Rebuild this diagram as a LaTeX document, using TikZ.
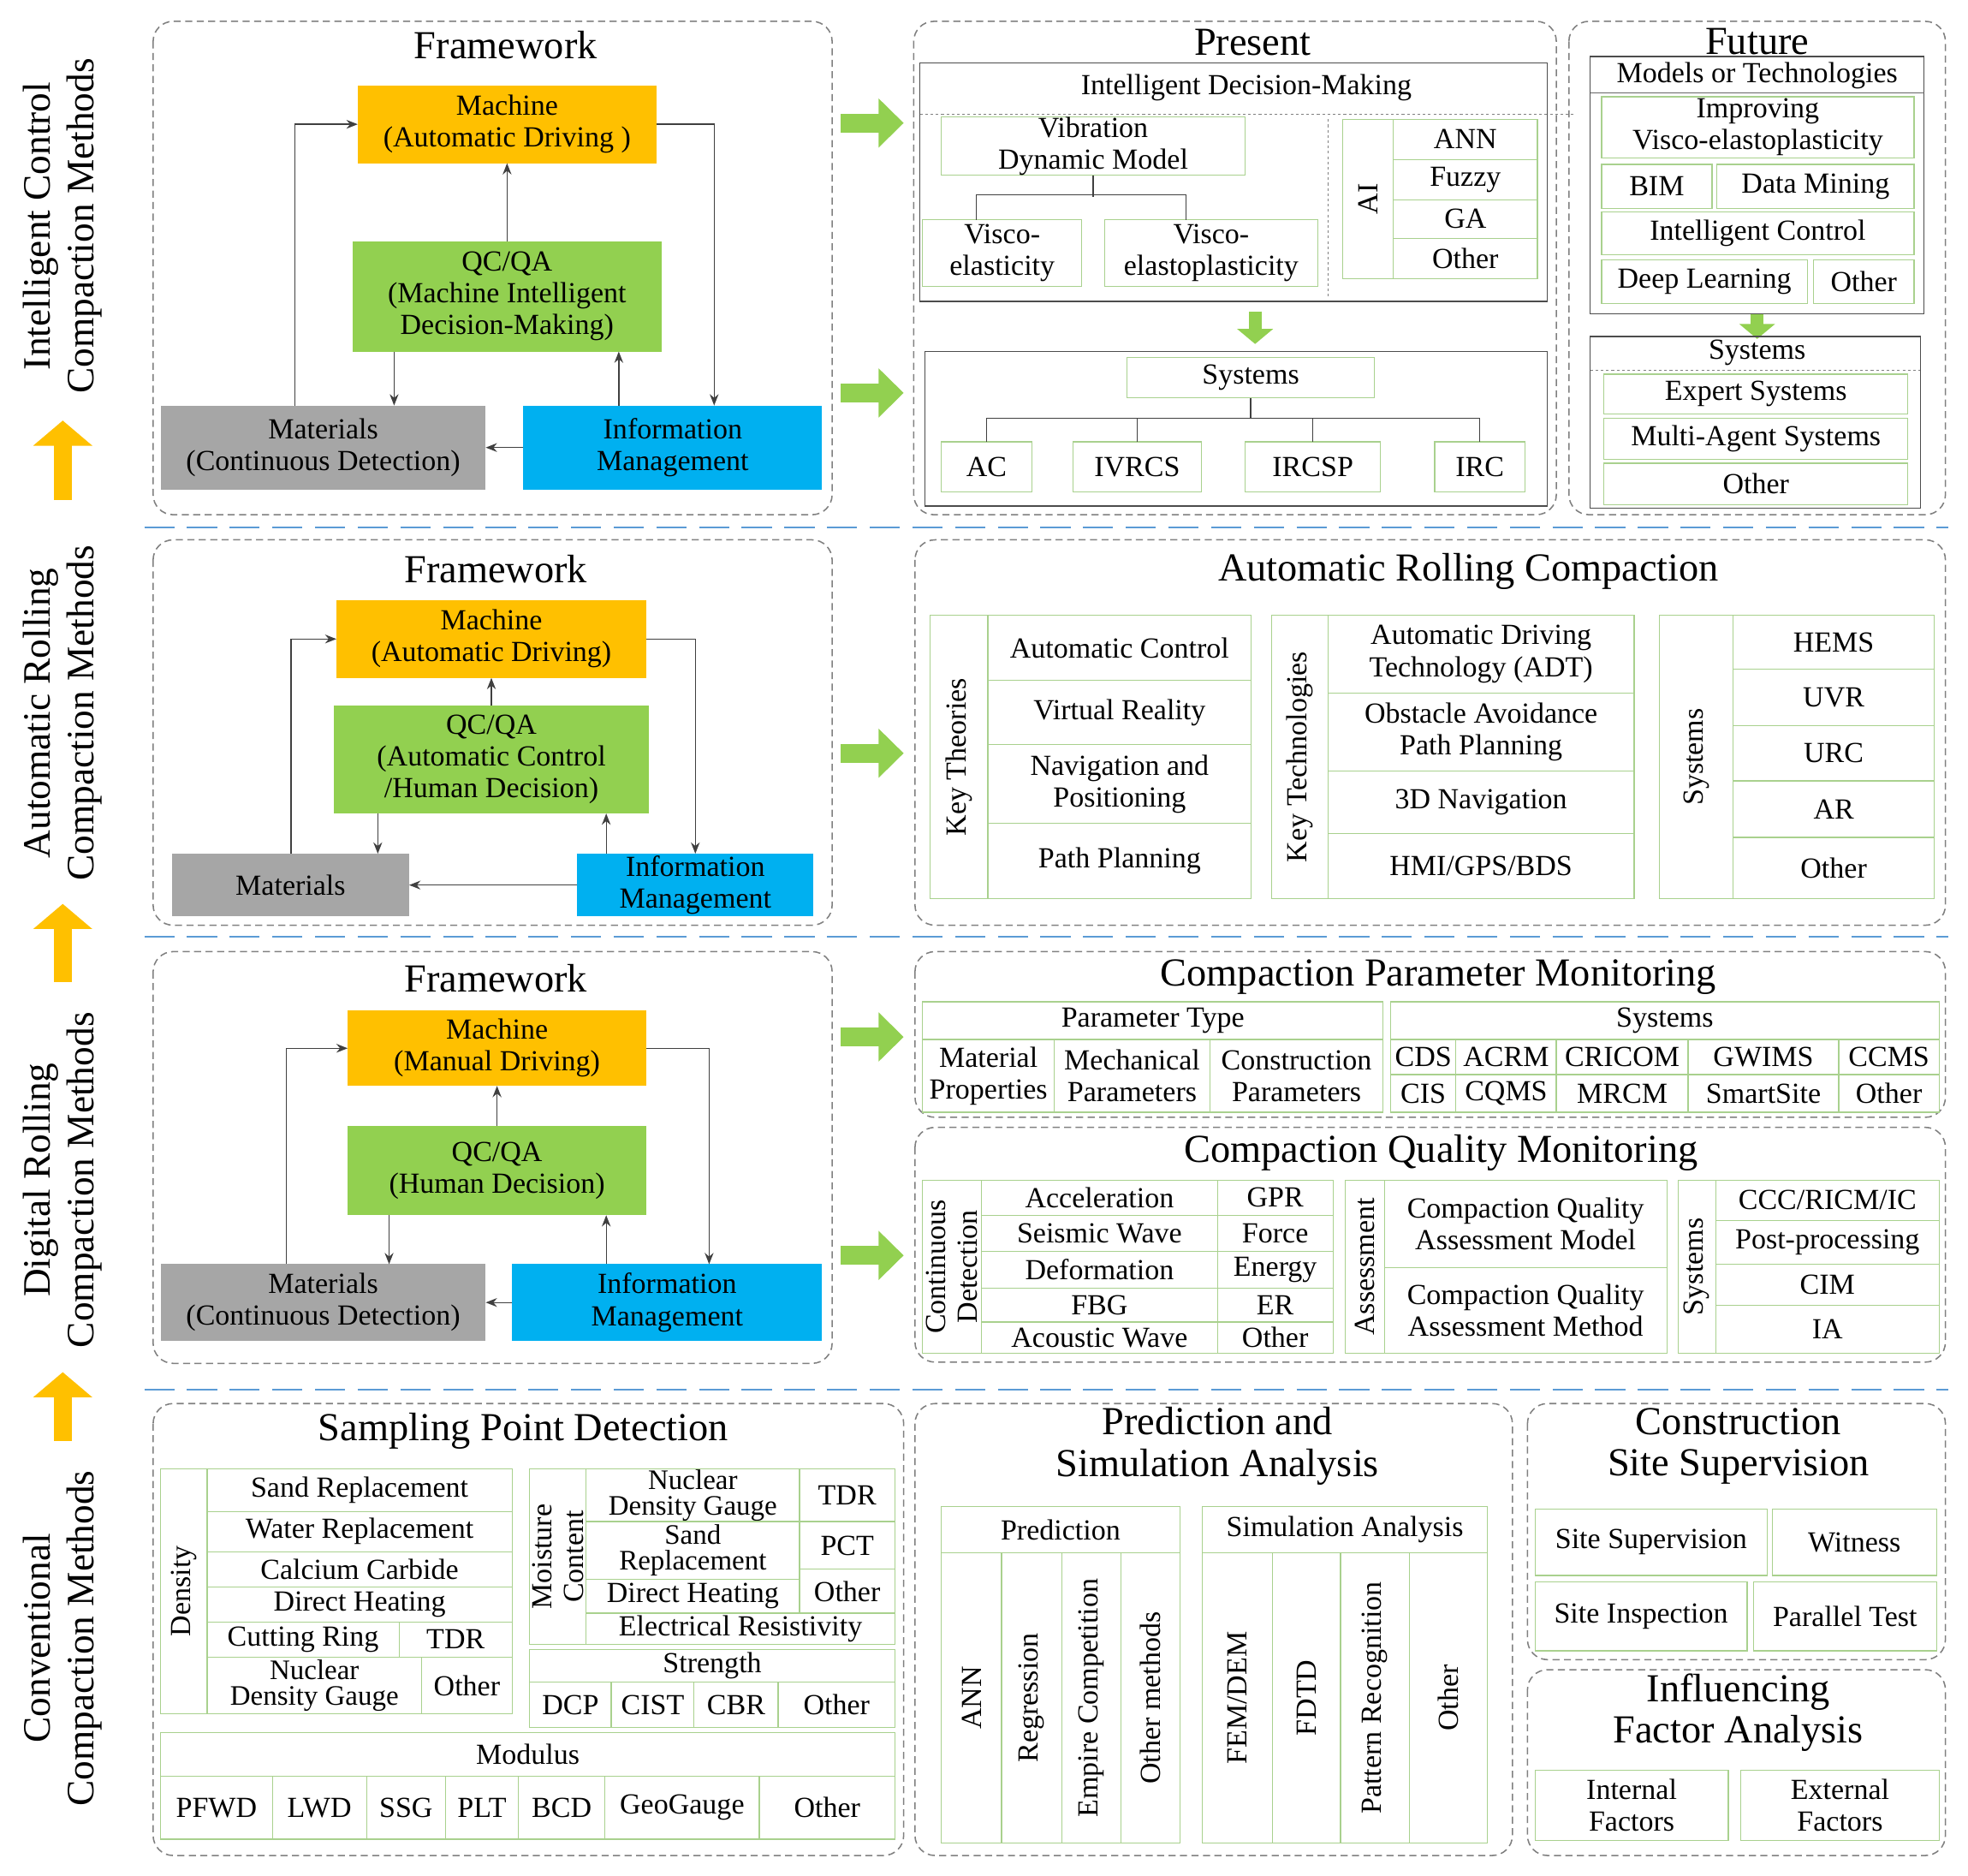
\documentclass[tikz,border=0pt]{standalone}
\usepackage{fontspec}
\setmainfont{Liberation Serif}
\usetikzlibrary{arrows.meta,calc}
\definecolor{gline}{HTML}{A9D18E}
\definecolor{garr}{HTML}{92D050}
\definecolor{orng}{HTML}{FFC000}
\definecolor{blu}{HTML}{00B0F0}
\definecolor{gry}{HTML}{A6A6A6}
\definecolor{sep}{HTML}{5B9BD5}
\definecolor{pan}{HTML}{808080}
\newcommand\fs{\fontsize{33}{36}\selectfont}
\newcommand\fss{\fontsize{32}{29}\selectfont}
\newcommand\ft{\fontsize{45}{47}\selectfont}
\newcommand\fl{\fontsize{44}{50}\selectfont}
\newcounter{bx}
\newcommand\B[6][]{\stepcounter{bx}\node[gbox,minimum width={(#4-#2)*0.05cm},minimum height={(#5-#3)*0.05cm},#1] (b\thebx) at ({(#2+#4)/2},{(#3+#5)/2}) {#6};}
\newcommand\Rb[5]{\B{#1}{#2}{#3}{#4}{}\node[rotate=90,font=\fs,align=center] (r\thebx) at (b\thebx) {#5};}
\newcommand\Pn[4]{\draw[panel] (#1,#2) rectangle (#3,#4);}
\newcommand\Tt[3]{\stepcounter{bx}\node[font=\ft,align=center] (t\thebx) at (#1,#2) {#3};}
\tikzset{
 x=0.05cm,y=-0.05cm,
 gbox/.style={draw=gline,line width=1.2pt,inner sep=0pt,outer sep=0pt,font=\fs,align=center},
 dbox/.style={draw=black!70,line width=1.2pt},
 panel/.style={draw=pan,dashed,line width=1.5pt,dash pattern=on 8pt off 5pt,rounded corners=0.8cm},
 fbox/.style={inner sep=0pt,outer sep=0pt,font=\fs,align=center,draw=none},
 fw/.style={draw=black!75,line width=1.3pt,-{Stealth[length=0.45cm,width=0.35cm]}},
 bigg/.style={draw=garr,line width=0.75cm,-{Triangle[length=1cm,width=1.9cm]}},
 smallg/.style={draw=garr,line width=0.5cm,-{Triangle[length=0.6cm,width=1.4cm]}},
 bigo/.style={draw=orng,line width=0.7cm,-{Triangle[length=1cm,width=2.3cm]}},
 sepl/.style={draw=sep,line width=2.5pt,dash pattern=on 1.2cm off 0.5cm},
 tree/.style={draw=black!75,line width=1.2pt},
}
\begin{document}
\begin{tikzpicture}
\useasboundingbox[fill=white] (0,0) rectangle (1568,1494);
% left labels
\node[rotate=90,font=\fl,align=center] (L1) at (50,180) {Intelligent Control\\Compaction Methods};
\node[rotate=90,font=\fl,align=center] (L2) at (50,568) {Automatic Rolling\\Compaction Methods};
\node[rotate=90,font=\fl,align=center] (L3) at (50,940) {Digital Rolling\\Compaction Methods};
\node[rotate=90,font=\fl,align=center] (L4) at (50,1305) {Conventional\\Compaction Methods};
\coordinate (o1a) at (50,398); \coordinate (o1b) at (50,335);
\coordinate (o2a) at (50,782); \coordinate (o2b) at (50,720);
\coordinate (o3a) at (50,1148); \coordinate (o3b) at (50,1093);
\draw[bigo] (o1a) -- (o1b); \draw[bigo] (o2a) -- (o2b); \draw[bigo] (o3a) -- (o3b);
% separators
\coordinate (s1a) at (115,420); \coordinate (s1b) at (1552,420);
\coordinate (s2a) at (115,746); \coordinate (s2b) at (1552,746);
\coordinate (s3a) at (115,1107); \coordinate (s3b) at (1552,1107);
\draw[sepl] (s1a)--(s1b); \draw[sepl] (s2a)--(s2b); \draw[sepl] (s3a)--(s3b);

% ===== Row 1 framework
\Pn{122}{17}{663}{410}
\Tt{403}{36}{Framework}
\node[fbox,fill=orng,minimum width=11.9cm,minimum height=3.1cm] (mach1) at (404,99) {Machine\\(Automatic Driving )};
\node[fbox,fill=garr,minimum width=12.3cm,minimum height=4.4cm] (qc1) at (404,236) {QC/QA\\(Machine Intelligent\\Decision-Making)};
\node[fbox,fill=gry,minimum width=12.95cm,minimum height=3.35cm] (mat1) at (257.5,356.5) {Materials\\(Continuous Detection)};
\node[fbox,fill=blu,minimum width=11.9cm,minimum height=3.35cm] (info1) at (536,356.5) {Information\\Management};
\draw[fw] ([xshift=5.35cm]mat1.north west) |- (mach1.west);
\draw[fw] (mach1.east) -| ([xshift=-4.3cm]info1.north east);
\draw[fw] (qc1.north) -- (mach1.south);
\draw[fw] ([xshift=1.65cm]qc1.south west) -- ([xshift=1.65cm]qc1.south west |- mat1.north);
\draw[fw] ([xshift=3.8cm]info1.north west) -- ([xshift=3.8cm]info1.north west |- qc1.south);
\draw[fw] (info1.west) -- (mat1.east);
\coordinate (ga1) at (670,98); \coordinate (gb1) at (720,98);
\coordinate (ga2) at (670,313); \coordinate (gb2) at (720,313);
\draw[bigg] (ga1)--(gb1); \draw[bigg] (ga2)--(gb2);
% Present
\Pn{728}{17}{1240}{410}
\Tt{998}{34}{Present}
\draw[dbox] (733,50) rectangle (1233,240);
\node[font=\fs] (idm) at (993,70) {Intelligent Decision-Making};
\draw[pan,dashed,line width=1pt] (733,91) -- (1255,91);
\draw[pan,dashed,line width=1pt] (1058,95) -- (1058,236);
\B{750}{95}{992}{138}{Vibration\\Dynamic Model}\edef\vdm{b\thebx}
\B{735}{175}{862}{228}{Visco-\\elasticity}\edef\ve{b\thebx}
\B{880}{175}{1050}{228}{Visco-\\elastoplasticity}\edef\vep{b\thebx}
\draw[tree] (\vdm.south) -- ++(0,17);
\draw[tree] ([xshift=-1.025cm]\ve.north) -- ++(0,-20) -- ++(167,0) -- ++(0,20);
\Rb{1070}{95}{1110}{222}{AI}
\B{1110}{95}{1225}{127}{ANN}
\B{1110}{127}{1225}{159}{Fuzzy}
\B{1110}{159}{1225}{190}{GA}
\B{1110}{190}{1225}{222}{Other}
\coordinate (dg1) at (1000,248); \coordinate (dg2) at (1000,274);
\draw[smallg] (dg1)--(dg2);
\draw[dbox] (737,280) rectangle (1233,403);
\B{898}{285}{1095}{317}{Systems}\edef\sy{b\thebx}
\B{750}{352}{822}{392}{AC}\edef\sa{b\thebx}
\B{855}{352}{957}{392}{IVRCS}\edef\sb{b\thebx}
\B{992}{352}{1100}{392}{IRCSP}\edef\sc{b\thebx}
\B{1143}{352}{1215}{392}{IRC}\edef\sd{b\thebx}
\draw[tree] (\sy.south) -- ++(0,16) -| (\sa.north);
\draw[tree] (\sy.south) ++(0,16) -| (\sb.north);
\draw[tree] (\sy.south) ++(0,16) -| (\sc.north);
\draw[tree] (\sy.south) ++(0,16) -| (\sd.north);
% Future
\Pn{1250}{17}{1550}{410}
\Tt{1400}{33}{Future}
\draw[dbox] (1267,45) rectangle (1533,250);
\node[font=\fs] (mot) at (1400,60) {Models or Technologies};
\draw[black!60,line width=1pt] (1267,74) -- (1533,74);
\B{1276}{77}{1525}{126}{Improving\\Visco-elastoplasticity}
\B{1276}{131}{1364}{166}{BIM}
\B{1368}{131}{1525}{166}{Data Mining}
\B{1276}{169}{1525}{203}{Intelligent Control}
\B{1276}{207}{1440}{242}{Deep Learning}
\B{1445}{207}{1525}{242}{Other}
\coordinate (dg3) at (1400,250); \coordinate (dg4) at (1400,270);
\draw[smallg] (dg3)--(dg4);
\draw[dbox] (1267,268) rectangle (1530,405);
\node[font=\fs] (fsy) at (1400,281) {Systems};
\draw[pan,dashed,line width=1pt] (1267,295) -- (1530,295);
\B{1278}{298}{1520}{330}{Expert Systems}
\B{1278}{333}{1520}{366}{Multi-Agent Systems}
\B{1278}{369}{1520}{402}{Other}

% ===== Row 2
\Pn{122}{430}{663}{737}
\Tt{395}{453}{Framework}
\node[fbox,fill=orng,minimum width=12.35cm,minimum height=3.1cm] (mach2) at (391.5,509) {Machine\\(Automatic Driving)};
\node[fbox,fill=garr,minimum width=12.55cm,minimum height=4.3cm] (qc2) at (391.5,605) {QC/QA\\(Automatic Control\\/Human Decision)};
\node[fbox,fill=gry,minimum width=9.45cm,minimum height=2.5cm] (mat2) at (231.5,705) {Materials};
\node[fbox,fill=blu,minimum width=9.4cm,minimum height=2.5cm] (info2) at (554,705) {Information\\Management};
\draw[fw] ([xshift=4.75cm]mat2.north west) |- (mach2.west);
\draw[fw] (mach2.east) -| ([xshift=-4.7cm]info2.north east);
\draw[fw] (qc2.north) -- (mach2.south);
\draw[fw] ([xshift=1.75cm]qc2.south west) -- ([xshift=1.75cm]qc2.south west |- mat2.north);
\draw[fw] ([xshift=1.15cm]info2.north west) -- ([xshift=1.15cm]info2.north west |- qc2.south);
\draw[fw] (info2.west) -- (mat2.east);
\coordinate (ga3) at (670,600); \coordinate (gb3) at (720,600);
\draw[bigg] (ga3)--(gb3);
\Pn{729}{430}{1550}{737}
\Tt{1170}{455}{Automatic Rolling Compaction}
\Rb{741}{490}{787}{716}{Key Theories}
\B{787}{490}{997}{542}{Automatic Control}
\B{787}{542}{997}{593}{Virtual Reality}
\B{787}{593}{997}{656}{Navigation and\\Positioning}
\B{787}{656}{997}{716}{Path Planning}
\Rb{1013}{490}{1058}{716}{Key Technologies}
\B{1058}{490}{1302}{552}{Automatic Driving\\Technology (ADT)}
\B{1058}{552}{1302}{614}{Obstacle Avoidance\\Path Planning}
\B{1058}{614}{1302}{664}{3D Navigation}
\B{1058}{664}{1302}{716}{HMI/GPS/BDS}
\Rb{1322}{490}{1381}{716}{Systems}
\B{1381}{490}{1541}{533}{HEMS}
\B{1381}{533}{1541}{578}{UVR}
\B{1381}{578}{1541}{622}{URC}
\B{1381}{622}{1541}{667}{AR}
\B{1381}{667}{1541}{716}{Other}

% ===== Row 3
\Pn{122}{758}{663}{1086}
\Tt{395}{779}{Framework}
\node[fbox,fill=orng,minimum width=11.9cm,minimum height=3cm] (mach3) at (396,835) {Machine\\(Manual Driving)};
\node[fbox,fill=garr,minimum width=11.9cm,minimum height=3.55cm] (qc3) at (396,932.5) {QC/QA\\(Human Decision)};
\node[fbox,fill=gry,minimum width=12.95cm,minimum height=3.05cm] (mat3) at (257.5,1037.5) {Materials\\(Continuous Detection)};
\node[fbox,fill=blu,minimum width=12.35cm,minimum height=3.05cm] (info3) at (531.5,1037.5) {Information\\Management};
\draw[fw] ([xshift=5cm]mat3.north west) |- (mach3.west);
\draw[fw] (mach3.east) -| ([xshift=-4.5cm]info3.north east);
\draw[fw] (qc3.north) -- (mach3.south);
\draw[fw] ([xshift=1.65cm]qc3.south west) -- ([xshift=1.65cm]qc3.south west |- mat3.north);
\draw[fw] ([xshift=3.75cm]info3.north west) -- ([xshift=3.75cm]info3.north west |- qc3.south);
\draw[fw] (info3.west) -- (mat3.east);
\coordinate (ga4) at (670,826); \coordinate (gb4) at (720,826);
\coordinate (ga5) at (670,1000); \coordinate (gb5) at (720,1000);
\draw[bigg] (ga4)--(gb4); \draw[bigg] (ga5)--(gb5);
\Pn{729}{758}{1550}{890}
\Tt{1146}{778}{Compaction Parameter Monitoring}
\B{735}{798}{1102}{828}{Parameter Type}
\B{735}{828}{840}{886}{Material\\Properties}
\B{840}{828}{964}{886}{Mechanical\\Parameters}
\B{964}{828}{1102}{886}{Construction\\Parameters}
\B{1108}{798}{1545}{828}{Systems}
\B{1108}{828}{1160}{856}{CDS}
\B{1160}{828}{1240}{856}{ACRM}
\B{1240}{828}{1345}{856}{CRICOM}
\B{1345}{828}{1465}{856}{GWIMS}
\B{1465}{828}{1545}{856}{CCMS}
\B{1108}{856}{1160}{886}{CIS}
\B{1160}{856}{1240}{886}{CQMS}
\B{1240}{856}{1345}{886}{MRCM}
\B{1345}{856}{1465}{886}{SmartSite}
\B{1465}{856}{1545}{886}{Other}
\Pn{729}{898}{1550}{1085}
\Tt{1148}{918}{Compaction Quality Monitoring}
\Rb{735}{940}{782}{1078}{Continuous\\Detection}
\B{782}{940}{970}{968}{Acceleration}
\B{970}{940}{1062}{968}{GPR}
\B{782}{968}{970}{997}{Seismic Wave}
\B{970}{968}{1062}{997}{Force}
\B{782}{997}{970}{1026}{Deformation}
\B{970}{997}{1062}{1026}{Energy}
\B{782}{1026}{970}{1053}{FBG}
\B{970}{1026}{1062}{1053}{ER}
\B{782}{1053}{970}{1078}{Acoustic Wave}
\B{970}{1053}{1062}{1078}{Other}
\Rb{1072}{940}{1103}{1078}{Assessment}
\B{1103}{940}{1328}{1010}{Compaction Quality\\Assessment Model}
\B{1103}{1010}{1328}{1078}{Compaction Quality\\Assessment Method}
\Rb{1337}{940}{1367}{1078}{Systems}
\B{1367}{940}{1545}{972}{CCC/RICM/IC}
\B{1367}{972}{1545}{1007}{Post-processing}
\B{1367}{1007}{1545}{1040}{CIM}
\B{1367}{1040}{1545}{1078}{IA}

% ===== Row 4
\Pn{122}{1118}{720}{1478}
\Tt{417}{1140}{Sampling Point Detection}
\Rb{128}{1170}{165}{1365}{Density}
\B{165}{1170}{408}{1204}{Sand Replacement}
\B{165}{1204}{408}{1236}{Water Replacement}
\B{165}{1236}{408}{1264}{Calcium Carbide}
\B{165}{1264}{408}{1292}{Direct Heating}
\B{165}{1292}{318}{1320}{Cutting Ring}
\B{318}{1292}{408}{1320}{TDR}
\B[font=\fss]{165}{1320}{336}{1365}{Nuclear\\Density Gauge}
\B{336}{1320}{408}{1365}{Other}
\Rb{422}{1170}{467}{1310}{Moisture\\Content}
\B[font=\fss]{467}{1170}{637}{1212}{Nuclear\\Density Gauge}
\B{637}{1170}{713}{1212}{TDR}
\B[font=\fss]{467}{1212}{637}{1258}{Sand\\Replacement}
\B{637}{1212}{713}{1250}{PCT}
\B{467}{1258}{637}{1285}{Direct Heating}
\B{637}{1250}{713}{1285}{Other}
\B{467}{1285}{713}{1310}{Electrical Resistivity}
\B{422}{1314}{713}{1340}{Strength}
\B{422}{1340}{487}{1376}{DCP}
\B{487}{1340}{553}{1376}{CIST}
\B{553}{1340}{620}{1376}{CBR}
\B{620}{1340}{713}{1376}{Other}
\B{128}{1380}{713}{1415}{Modulus}
\B{128}{1415}{217}{1465}{PFWD}
\B{217}{1415}{292}{1465}{LWD}
\B{292}{1415}{355}{1465}{SSG}
\B{355}{1415}{413}{1465}{PLT}
\B{413}{1415}{482}{1465}{BCD}
\B{482}{1415}{605}{1465}{GeoGauge}
\B{605}{1415}{713}{1465}{Other}
\Pn{729}{1118}{1205}{1478}
\Tt{970}{1152}{Prediction and\\Simulation Analysis}
\B{750}{1200}{940}{1237}{Prediction}
\Rb{750}{1237}{798}{1468}{ANN}
\Rb{798}{1237}{846}{1468}{Regression}
\Rb{846}{1237}{893}{1468}{Empire Competition}
\Rb{893}{1237}{940}{1468}{Other methods}
\B{958}{1200}{1185}{1237}{Simulation Analysis}
\Rb{958}{1237}{1014}{1468}{FEM/DEM}
\Rb{1014}{1237}{1068}{1468}{FDTD}
\Rb{1068}{1237}{1123}{1468}{Pattern Recognition}
\Rb{1123}{1237}{1185}{1468}{Other}
\Pn{1217}{1118}{1550}{1322}
\Tt{1385}{1152}{Construction\\Site Supervision}
\B{1223}{1202}{1408}{1255}{Site Supervision}
\B{1412}{1202}{1543}{1255}{Witness}
\B{1223}{1260}{1392}{1315}{Site Inspection}
\B{1397}{1260}{1543}{1315}{Parallel Test}
\Pn{1217}{1330}{1550}{1478}
\Tt{1385}{1364}{Influencing\\Factor Analysis}
\B{1223}{1410}{1377}{1466}{Internal\\Factors}
\B{1387}{1410}{1545}{1466}{External\\Factors}
\end{tikzpicture}
\end{document}
